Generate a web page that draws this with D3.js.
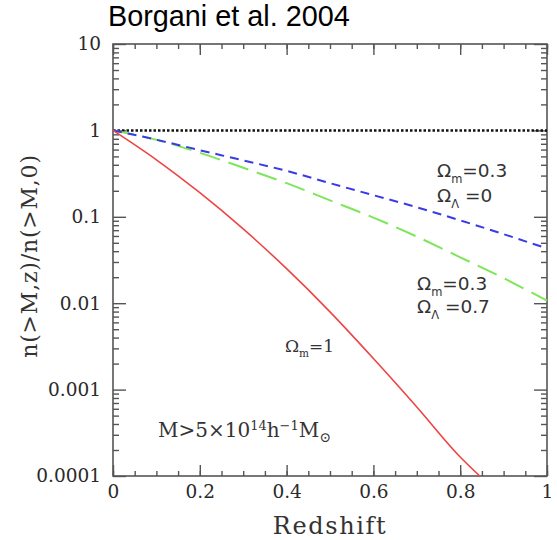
<!DOCTYPE html>
<html>
<head>
<meta charset="utf-8">
<script src="https://cdn.jsdelivr.net/npm/d3@7"></script>
<style>
  body { margin: 0; background: #fff; }
  svg { display: block; }
</style>
</head>
<body>
<svg id="chart" width="557" height="540"></svg>
<script>
"use strict"

// redshift samples shared by the curves
const redshift = [0, 0.1, 0.2, 0.3, 0.4, 0.5, 0.6, 0.7, 0.8, 0.9, 1.0]
// Omega_m = 0.3, Omega_L = 0 (blue, short dash)
const openValues = [1, 0.78, 0.59, 0.45, 0.34, 0.245, 0.178, 0.129, 0.091, 0.063, 0.043]
// Omega_m = 0.3, Omega_L = 0.7 (green, long dash)
const lambdaValues = [1, 0.78, 0.55, 0.37, 0.245, 0.155, 0.098, 0.059, 0.034, 0.0195, 0.0107]
// Omega_m = 1 (red, solid) -- leaves the plot below 1e-4
const einsteinZ = [0, 0.1, 0.2, 0.3, 0.4, 0.5, 0.6, 0.7, 0.8, 0.845]
const einsteinValues = [1, 0.457, 0.19, 0.0724, 0.0251, 0.00794, 0.00229, 0.00063, 0.000166, 0.0001]

const xTicks = [0, 0.2, 0.4, 0.6, 0.8, 1]
const xTickLabels = ["0", "0.2", "0.4", "0.6", "0.8", "1"]
const yTicks = [10, 1, 0.1, 0.01, 0.001, 0.0001]
const yTickLabels = ["10", "1", "0.1", "0.01", "0.001", "0.0001"]

const margin = {left: 113, right: 10, top: 44, bottom: 64}
const width = 557 - margin.left - margin.right
const height = 540 - margin.top - margin.bottom

const svg = d3.select("#chart")
const g = svg.append("g").attr("transform", "translate(" + margin.left + "," + margin.top + ")")

const x = d3.scaleLinear().domain([0, 1]).range([0, width])
const y = d3.scaleLog().domain([0.0001, 10]).range([height, 0])

const frameColor = "#555"
const serif = "DejaVu Serif, serif"
const sans = "DejaVu Sans, sans-serif"
const titleFont = "Liberation Sans, Arial, sans-serif"

// minor ticks
const xMinor = d3.range(0, 1.0001, 0.05)
const yMinor = []
for (let e = -4; e < 1; ++e) {
    for (let k = 2; k < 10; ++k) yMinor.push(k * Math.pow(10, e))
}

function styleAxis(sel) {
    sel.select(".domain").remove()
    sel.selectAll("line").attr("stroke", frameColor).attr("stroke-width", 1.4)
    sel.selectAll("text").attr("fill", "#2a2a2a").style("font-family", serif).style("font-size", "18.5px")
}

// bottom and top
g.append("g").attr("transform", "translate(0," + height + ")")
    .call(d3.axisBottom(x).tickValues(xMinor).tickSize(-5).tickFormat("")).call(styleAxis)
g.append("g").attr("transform", "translate(0," + height + ")")
    .call(d3.axisBottom(x).tickValues(xTicks).tickSize(-11).tickPadding(9)
        .tickFormat((d, i) => xTickLabels[i])).call(styleAxis)
g.append("g")
    .call(d3.axisTop(x).tickValues(xMinor).tickSize(-5).tickFormat("")).call(styleAxis)
g.append("g")
    .call(d3.axisTop(x).tickValues(xTicks).tickSize(-11).tickFormat("")).call(styleAxis)

// left and right
g.append("g")
    .call(d3.axisLeft(y).tickValues(yMinor).tickSize(-6).tickFormat("")).call(styleAxis)
g.append("g")
    .call(d3.axisLeft(y).tickValues(yTicks).tickSize(-13).tickPadding(12)
        .tickFormat((d, i) => yTickLabels[i])).call(styleAxis)
g.append("g").attr("transform", "translate(" + width + ",0)")
    .call(d3.axisRight(y).tickValues(yMinor).tickSize(-6).tickFormat("")).call(styleAxis)
g.append("g").attr("transform", "translate(" + width + ",0)")
    .call(d3.axisRight(y).tickValues(yTicks).tickSize(-13).tickFormat("")).call(styleAxis)

// frame
g.append("rect").attr("width", width).attr("height", height)
    .attr("fill", "none").attr("stroke", frameColor).attr("stroke-width", 1.6)

const line = d3.line().x(d => x(d[0])).y(d => y(d[1])).curve(d3.curveMonotoneX)

// reference line at 1
g.append("path")
    .datum([[0, 1], [1, 1]])
    .attr("d", line)
    .attr("fill", "none").attr("stroke", "#111").attr("stroke-width", 2.5)
    .attr("stroke-dasharray", "2.5,2")

g.append("path")
    .datum(redshift.map((z, i) => [z, lambdaValues[i]]))
    .attr("d", line)
    .attr("fill", "none").attr("stroke", "#7ee65a").attr("stroke-width", 2)
    .attr("stroke-dasharray", "21,9")

g.append("path")
    .datum(redshift.map((z, i) => [z, openValues[i]]))
    .attr("d", line)
    .attr("fill", "none").attr("stroke", "#3a3ae8").attr("stroke-width", 2)
    .attr("stroke-dasharray", "9,6")

g.append("path")
    .datum(einsteinZ.map((z, i) => [z, einsteinValues[i]]))
    .attr("d", line)
    .attr("fill", "none").attr("stroke", "#ee4444").attr("stroke-width", 1.6)

// annotations
function omega(px, py, sub, val, font, size) {
    const t = svg.append("text").attr("x", px).attr("y", py)
        .style("font-family", font).style("font-size", size + "px").attr("fill", "#333")
    t.append("tspan").text("Ω")
    t.append("tspan").attr("dy", size * 0.3).style("font-size", (size * 0.62) + "px").text(sub)
    t.append("tspan").attr("dy", -size * 0.3).text(val)
}
omega(437, 177, "m", "=0.3", sans, 18.5)
omega(437, 202, "Λ", " =0", sans, 18.5)
omega(417, 290, "m", "=0.3", sans, 18.5)
omega(417, 313, "Λ", " =0.7", sans, 18.5)
omega(285, 352, "m", "=1", serif, 17)

const mass = svg.append("text").attr("x", 158).attr("y", 437)
    .style("font-family", serif).style("font-size", "20px").attr("fill", "#333")
mass.append("tspan").text("M>5×10")
mass.append("tspan").attr("dy", -7).style("font-size", "13px").text("14")
mass.append("tspan").attr("dy", 7).text("h")
mass.append("tspan").attr("dy", -7).style("font-size", "13px").text("−1")
mass.append("tspan").attr("dy", 7).text("M")
mass.append("tspan").attr("dy", 5).style("font-size", "14px").text("⊙")

// axis titles
svg.append("text").attr("x", margin.left + width / 2).attr("y", 534)
    .attr("text-anchor", "middle").style("font-family", serif).style("font-size", "24px")
    .style("letter-spacing", "1.6px")
    .attr("fill", "#333").text("Redshift")

svg.append("text").attr("transform", "translate(37," + (margin.top + 212) + ") rotate(-90)")
    .attr("text-anchor", "middle").style("font-family", serif).style("font-size", "22px")
    .style("letter-spacing", "0.8px")
    .attr("fill", "#333").text("n(>M,z)/n(>M,0)")

svg.append("text").attr("x", 108).attr("y", 26)
    .style("font-family", titleFont).style("font-size", "28.8px").attr("fill", "#000")
    .text("Borgani et al. 2004")
</script>
</body>
</html>
